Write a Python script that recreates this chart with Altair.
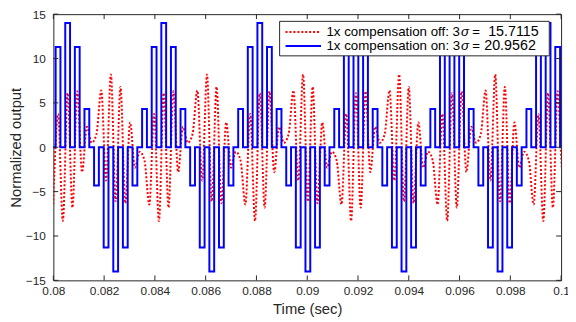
import altair as alt
import pandas as pd

# ---------------- data ----------------
# sample-and-hold grid of the blue trace (one level per sample step)
t_start = 0.08009      # start of first full step (sec)
dt = 0.00018924        # step width (sec)

# blue: "1x compensation on" step levels, steps k = -1 .. 105
blue_levels = [
    0,
    11.3, 0, 14, 0, 11.3, 0, 4.3, 0, -4.3, 0, -11.3, 0, -14, 0, -11.3, 0, -4.3, 0, 4.3, 0,
    11.3, 0, 14, 0, 11.3, 0, 4.3, 0, -4.3, 0, -11.3, 0, -14, 0, -11.3, 0, -4.3, 0, 4.3, 0,
    11.3, 0, 14, 0, 11.3, 0, 4.3, 0, -4.3, 0, -11.3, 0, -14, 0, -11.3, 0, -4.3, 0, 4.3, 0,
    11.3, 0, 14, 0, 11.3, 0, 4.3, 0, -4.3, 0, -11.3, 0, -14, 0, -11.3, 0, -4.3, 0, 4.3, 0,
    11.3, 0, 14, 0, 11.3, 0, 4.3, 0, -4.3, 0, -11.3, 0, -14, 0, -11.3, 0, -4.3, 0, 4.3, 0,
    11.3, 0, 14, 0, 11.3, 0,
]

# red: "1x compensation off" turning points, one per step centre, k = -1 .. 106
red_peaks = [
    -6.45,
    3.75, -8.3, 6.1, -6.8, 6.3, -2.8, 2.3, 0.5, 1.5, 6.4, -3.75, 8.2, -6.1, 6.8, -6.3, 2.8, -2.3, -0.5, -1.5, -6.45,
    3.75, -8.3, 6.1, -6.8, 6.3, -2.8, 2.3, 0.5, 1.5, 6.4, -3.75, 8.2, -6.1, 6.8, -6.3, 2.8, -2.3, -0.5, -1.5, -6.45,
    3.75, -8.3, 6.1, -6.8, 6.3, -2.8, 2.3, 0.5, 1.5, 6.4, -3.75, 8.2, -6.1, 6.8, -6.3, 2.8, -2.3, -0.5, -1.5, -6.45,
    3.75, -8.3, 6.1, -6.8, 6.3, -2.8, 2.3, 0.5, 1.5, 6.4, -3.75, 8.2, -6.1, 6.8, -6.3, 2.8, -2.3, -0.5, -1.5, -6.45,
    3.75, -8.3, 6.1, -6.8, 6.3, -2.8, 2.3, 0.5, 1.5, 6.4, -3.75, 8.2, -6.1, 6.8, -6.3, 2.8, -2.3, -0.5, -1.5, -6.45,
    3.75, -8.3, 6.1, -6.8, 6.3, -2.8, 2.3,
]

x_ticks = [0.08, 0.082, 0.084, 0.086, 0.088, 0.09, 0.092, 0.094, 0.096, 0.098, 0.1]
y_ticks = [-15, -10, -5, 0, 5, 10, 15]
x_domain = [0.08, 0.1]
y_domain = [-15, 15]

legend_off = ["1x compensation off: 3", "σ", "=", "15.7115"]
legend_on = ["1x compensation on: 3", "σ", "=", "20.9562"]
x_title = "Time (sec)"
y_title = "Normalized output"

# ---------------- tables ----------------
blue_t = [t_start + k * dt for k in range(-1, len(blue_levels) - 1)] + [x_domain[1]]
blue_df = pd.DataFrame({"t": blue_t, "v": blue_levels + [blue_levels[-1]]})
red_df = pd.DataFrame({"t": [t_start + (k + 0.5) * dt for k in range(-1, len(red_peaks) - 1)],
                       "v": red_peaks})
xt_df = pd.DataFrame({"t": x_ticks})
yt_df = pd.DataFrame({"v": y_ticks})
one = pd.DataFrame({"a": [0]})

W, H = 515, 270
FONT = "Liberation Sans"
AX = "#262626"

xs = alt.Scale(domain=x_domain, nice=False, zero=False)
ys = alt.Scale(domain=y_domain, nice=False, zero=False)

x_axis = alt.Axis(values=x_ticks, format="~g", ticks=False, domain=False, grid=False,
                  labelFontSize=12, labelFont=FONT, labelColor=AX, labelPadding=5,
                  title=x_title, titleFont=FONT, titleFontSize=15, titleFontWeight="normal",
                  titleColor=AX, titlePadding=6, labelFlush=False)
y_axis = alt.Axis(values=y_ticks, ticks=False, domain=False, grid=False,
                  labelFontSize=12, labelFont=FONT, labelColor=AX, labelPadding=8,
                  title=y_title, titleFont=FONT, titleFontSize=15, titleFontWeight="normal",
                  titleColor=AX, titlePadding=2)

red = alt.Chart(red_df).mark_line(
    interpolate="monotone", color="#ff0000", strokeWidth=2, strokeDash=[2, 2], clip=True
).encode(x=alt.X("t:Q", scale=xs, axis=x_axis), y=alt.Y("v:Q", scale=ys, axis=y_axis))

blue = alt.Chart(blue_df).mark_line(
    interpolate="step-after", color="#0000ff", strokeWidth=2, clip=True
).encode(x=alt.X("t:Q", scale=xs), y=alt.Y("v:Q", scale=ys))

tick_top = alt.Chart(xt_df).mark_rule(color=AX, strokeWidth=1).encode(
    x=alt.X("t:Q", scale=xs), y=alt.value(0), y2=alt.value(5))
tick_bot = alt.Chart(xt_df).mark_rule(color=AX, strokeWidth=1).encode(
    x=alt.X("t:Q", scale=xs), y=alt.value(H - 5), y2=alt.value(H))
tick_left = alt.Chart(yt_df).mark_rule(color=AX, strokeWidth=1).encode(
    y=alt.Y("v:Q", scale=ys), x=alt.value(0), x2=alt.value(5))
tick_right = alt.Chart(yt_df).mark_rule(color=AX, strokeWidth=1).encode(
    y=alt.Y("v:Q", scale=ys), x=alt.value(W - 5), x2=alt.value(W))

# legend box
lx0, lx1, ly0, ly1 = 229.5, 503, 7.3, 42.3
leg_box = alt.Chart(one).mark_rect(fill="white", stroke=AX, strokeWidth=1).encode(
    x=alt.value(lx0), x2=alt.value(lx1), y=alt.value(ly0), y2=alt.value(ly1))
r1y, r2y = 18, 32.3
leg_red = alt.Chart(one).mark_rule(color="#ff0000", strokeWidth=2, strokeDash=[2, 2]).encode(
    x=alt.value(235.5), x2=alt.value(271.5), y=alt.value(r1y))
leg_blue = alt.Chart(one).mark_rule(color="#0000ff", strokeWidth=2).encode(
    x=alt.value(235.5), x2=alt.value(271.5), y=alt.value(r2y))

def txt(s, x, y, italic=False, align="left", size=13.5):
    return alt.Chart(one).mark_text(
        text=s, align=align, baseline="middle", font=FONT, fontSize=size, color="black",
        fontStyle="italic" if italic else "normal"
    ).encode(x=alt.value(x), y=alt.value(y))

tx = 277
texts = []
for row, yy, nx in ((legend_off, r1y, 441), (legend_on, r2y, 437)):
    texts += [
        txt(row[0], tx, yy),
        txt(row[1], tx + 136.5, yy, italic=True),
        txt(row[2], 425, yy),
        txt(row[3], nx, yy, size=14.5),
    ]

chart = alt.layer(red, blue, tick_top, tick_bot, tick_left, tick_right,
                  leg_box, leg_red, leg_blue, *texts).properties(
    width=W, height=H,
    autosize=alt.AutoSizeParams(type="none"),
    padding={"left": 46, "top": 4, "right": 7, "bottom": 40},
).configure_view(stroke=AX, strokeWidth=1)

chart.save("out.html", embed_options={"renderer": "svg", "actions": False})
